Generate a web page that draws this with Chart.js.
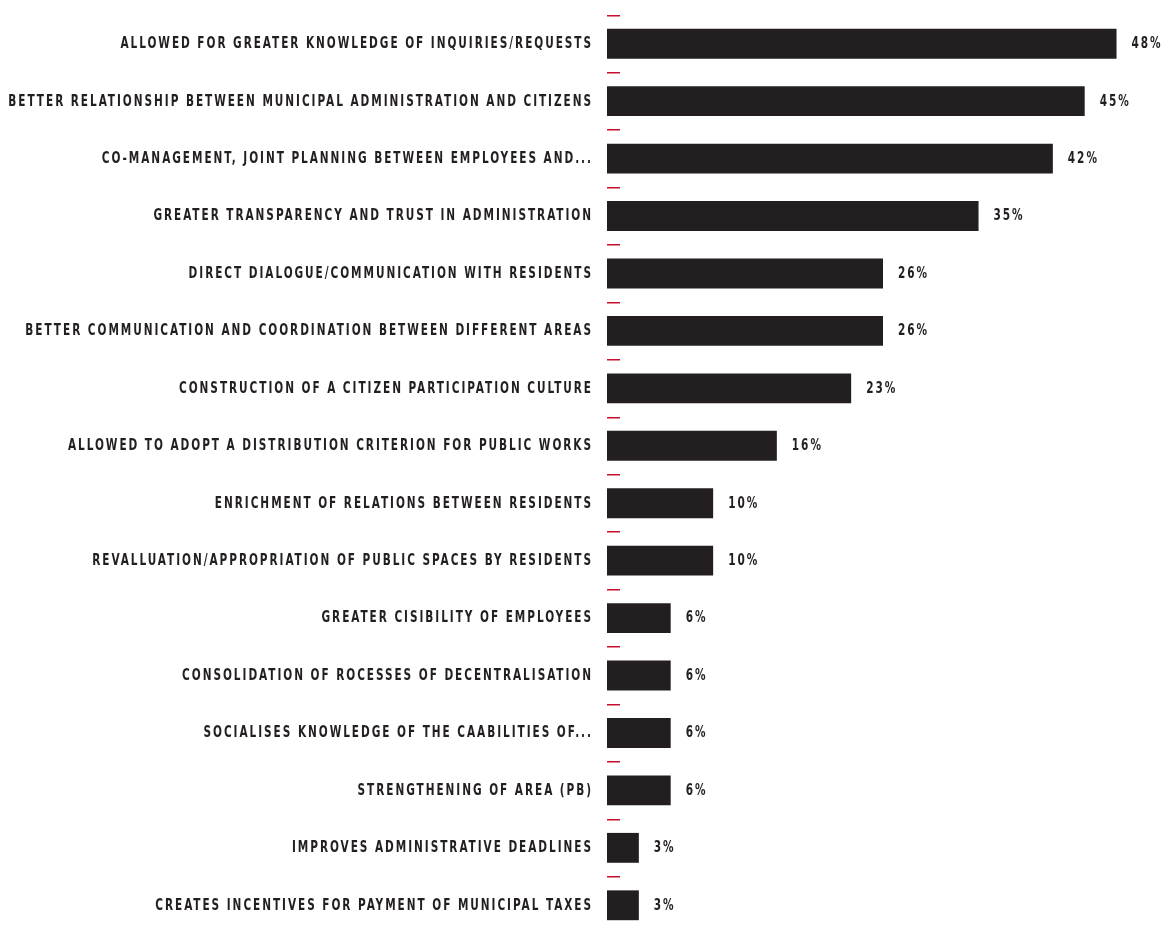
<!DOCTYPE html>
<html>
<head>
<meta charset="utf-8">
<script src="https://cdn.jsdelivr.net/npm/chart.js@4"></script>
<style>
  html, body { margin: 0; padding: 0; background: #fff; overflow: hidden; }
</style>
</head>
<body>
<canvas id="mycanvas" width="1161" height="936"></canvas>
<script>
var categories = [
	'ALLOWED FOR GREATER KNOWLEDGE OF INQUIRIES/REQUESTS',
	'BETTER RELATIONSHIP BETWEEN MUNICIPAL ADMINISTRATION AND CITIZENS',
	'CO-MANAGEMENT, JOINT PLANNING BETWEEN EMPLOYEES AND...',
	'GREATER TRANSPARENCY AND TRUST IN ADMINISTRATION',
	'DIRECT DIALOGUE/COMMUNICATION WITH RESIDENTS',
	'BETTER COMMUNICATION AND COORDINATION BETWEEN DIFFERENT AREAS',
	'CONSTRUCTION OF A CITIZEN PARTICIPATION CULTURE',
	'ALLOWED TO ADOPT A DISTRIBUTION CRITERION FOR PUBLIC WORKS',
	'ENRICHMENT OF RELATIONS BETWEEN RESIDENTS',
	'REVALLUATION/APPROPRIATION OF PUBLIC SPACES BY RESIDENTS',
	'GREATER CISIBILITY OF EMPLOYEES',
	'CONSOLIDATION OF ROCESSES OF DECENTRALISATION',
	'SOCIALISES KNOWLEDGE OF THE CAABILITIES OF...',
	'STRENGTHENING OF AREA (PB)',
	'IMPROVES ADMINISTRATIVE DEADLINES',
	'CREATES INCENTIVES FOR PAYMENT OF MUNICIPAL TAXES'
];
var percents = [48, 45, 42, 35, 26, 26, 23, 16, 10, 10, 6, 6, 6, 6, 3, 3];

var ink = '#231f20';
var red = '#c8102e';
var labelFont = 'bold 15px "DejaVu Sans Condensed", "DejaVu Sans", sans-serif';
var squeeze = 0.78;

function condensedText(ctx, text, x, y, align) {
	ctx.save();
	ctx.translate(x, y);
	ctx.scale(squeeze, 1);
	ctx.textAlign = align;
	ctx.fillText(text, 0, 0);
	ctx.restore();
}

// category names, value labels and red separators, placed with the chart's scales
var decorations = {
	id: 'decorations',
	afterDatasetsDraw: function(chart) {
		var ctx = chart.ctx;
		var x = chart.scales.x;
		var y = chart.scales.y;
		var area = chart.chartArea;
		var step = y.getPixelForValue(1) - y.getPixelForValue(0);
		ctx.save();
		ctx.font = labelFont;
		ctx.letterSpacing = '2.5px';
		ctx.textBaseline = 'middle';
		for (var i = 0; i < categories.length; i++) {
			var cy = y.getPixelForValue(i) + 0.5;
			ctx.fillStyle = ink;
			condensedText(ctx, categories[i], area.left - 14, cy, 'right');
			condensedText(ctx, percents[i] + '%', x.getPixelForValue(percents[i]) + 15, cy, 'left');

			ctx.fillStyle = red;
			ctx.fillRect(area.left, Math.round(cy - step / 2) - 1, 13, 1.5);
		}
		ctx.restore();
	}
};

var ctx = document.getElementById('mycanvas');

var barGraph = new Chart(ctx, {
	type: 'bar',
	data: {
		labels: categories,
		datasets: [
			{
				label: 'Share',
				backgroundColor: ink,
				borderWidth: 0,
				barPercentage: 0.52,
				categoryPercentage: 1,
				data: percents
			}
		]
	},
	options: {
		indexAxis: 'y',
		responsive: false,
		animation: false,
		devicePixelRatio: 1,
		layout: { padding: { left: 607, right: 2, top: 15, bottom: 2 } },
		plugins: {
			legend: { display: false },
			tooltip: { enabled: false }
		},
		scales: {
			x: { display: false, min: 0, max: 52 },
			y: { display: false }
		}
	},
	plugins: [decorations]
});
</script>
</body>
</html>
